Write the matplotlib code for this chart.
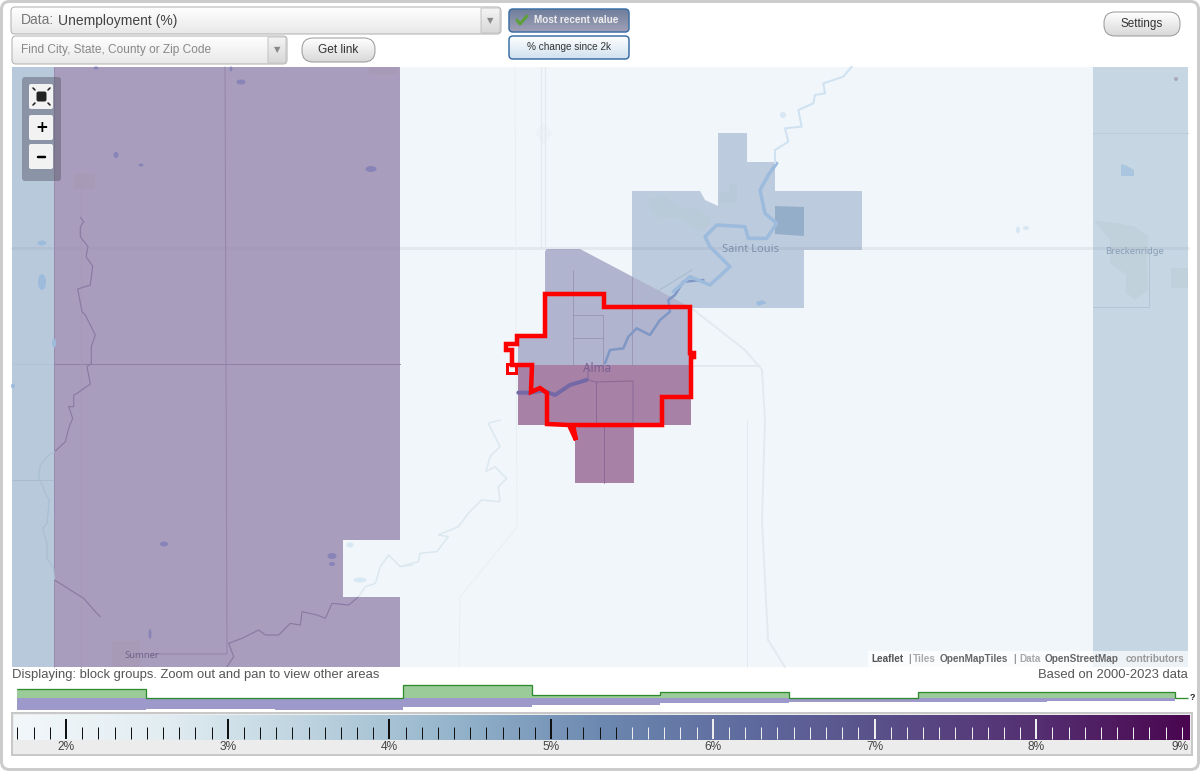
# coding: utf-8
import numpy as np
import matplotlib
matplotlib.use('Agg')
import matplotlib.pyplot as plt
from matplotlib.colors import LinearSegmentedColormap
from matplotlib.patches import Ellipse, FancyBboxPatch, Polygon, Rectangle

plt.rcParams['font.family'] = ['Liberation Sans', 'DejaVu Sans']

# Гистограмма над шкалой: границы столбцов и высоты (пиксели от базовой линии)
hist_edges = [17, 146, 275, 403, 532, 660, 789, 918, 1047, 1175, 1188]
green_heights = [8.7, 0.5, 0.5, 12.7, 2.7, 5.7, 0.5, 5.7, 5.7, 0.5]
purple_heights = [12.3, 11, 12.3, 9.3, 7, 5.3, 4.3, 4.3, 2.7, 1]

# Шкала значений
scale_values = [2, 3, 4, 5, 6, 7, 8, 9]
scale_labels = ['2%', '3%', '4%', '5%', '6%', '7%', '8%', '9%']
minor_ticks = np.arange(17, 90) / 10
gradient_colors = ['#f2f7fa', '#e2edf2', '#bdd3df', '#94b4cb', '#6c88b0',
                   '#5f6a9e', '#594d87', '#542e70', '#4a0650']

# Области карты, координаты в пикселях рисунка
west_blue = [(12, 67), (54, 67), (54, 667), (12, 667)]
west_purple = [(54, 67), (400, 67), (400, 540), (343, 540), (343, 597),
               (400, 597), (400, 667), (54, 667)]
east_blue = [(1093, 67), (1188, 67), (1188, 667), (1093, 667)]
saint_louis = [(632, 191), (700, 191), (705, 200), (718, 206), (718, 133),
               (747, 133), (747, 162), (775, 162), (775, 191), (862, 191),
               (862, 250), (804, 250), (804, 308), (697, 308), (686, 308),
               (632, 278)]
saint_louis_dark = [(775, 206), (804, 207), (804, 236), (775, 234)]
alma_upper = [(545, 249), (580, 249), (690, 307), (691, 365), (518, 365),
              (518, 335), (545, 335)]
alma_lower = [(518, 365), (691, 365), (691, 425), (634, 425), (634, 483),
              (575, 483), (575, 425), (518, 425)]
red_outline = [(545, 294), (604, 294), (604, 307), (690, 307), (690, 353),
               (694, 353), (694, 357), (691, 357), (691, 397), (662, 397),
               (662, 425), (573, 425), (576, 440), (569, 425), (547, 424),
               (547, 393), (540, 388), (531, 392), (532, 365), (512, 365),
               (512, 350), (506, 350), (506, 344), (517, 344), (517, 336),
               (545, 336)]
red_square = [(507, 364), (516, 364), (516, 373), (507, 373)]


def from_crop(pts, x0, y0):
    '''Пересчет точек с увеличенного фрагмента (3x) в пиксели рисунка.'''
    return np.array(pts) / 3 + np.array([x0, y0])


river_west = from_crop([(205, 112), (215, 125), (205, 140), (205, 170), (228, 200),
                        (222, 230), (242, 258), (235, 315), (197, 327), (210, 395),
                        (220, 405), (250, 465), (238, 500), (238, 550), (225, 560),
                        (235, 612), (195, 640), (185, 645), (185, 680), (170, 680),
                        (182, 715), (170, 745), (160, 785), (128, 815)], 12, 180)
river_west_blue = from_crop([(128, 815), (110, 825), (85, 855), (80, 890), (105, 950),
                             (112, 960), (105, 1030), (92, 1045), (105, 1090),
                             (105, 1135), (125, 1165), (128, 1200)], 12, 180)
river_sw = from_crop([(128, 1200), (175, 1230), (215, 1255), (250, 1295),
                      (265, 1310)], 12, 180)
river_south = from_crop([(645, 1460), (665, 1430), (650, 1390), (690, 1375), (740, 1350),
                         (760, 1365), (800, 1365), (835, 1330), (865, 1335), (870, 1295),
                         (915, 1305), (940, 1315), (960, 1270), (1010, 1275),
                         (1040, 1250)], 12, 180)
river_mid = from_crop([(0, 440), (55, 425), (60, 400), (110, 395), (145, 350), (115, 345),
                       (175, 320), (205, 280), (245, 240), (300, 245), (295, 200),
                       (320, 175), (285, 140), (258, 155), (270, 110), (300, 80),
                       (275, 30), (265, 10), (300, 0)], 400, 420)
river_mid_west = from_crop([(1040, 1250), (1060, 1220), (1090, 1210), (1105, 1160),
                            (1130, 1125), (1165, 1160), (1200, 1155)], 12, 180)
river_alma_thick = from_crop([(85, 368), (120, 368), (160, 362), (195, 375), (240, 345),
                              (290, 330)], 490, 270)
river_alma = from_crop([(345, 280), (360, 240), (400, 235), (415, 200), (440, 175),
                        (480, 195), (510, 150), (540, 125), (535, 90), (555, 75),
                        (580, 35), (640, 30)], 490, 270)
river_louis = from_crop([(160, 515), (210, 470), (270, 495), (330, 440), (270, 380),
                         (255, 350), (290, 315), (375, 320), (385, 355), (440, 355),
                         (470, 310), (435, 280), (420, 210), (445, 165),
                         (470, 130)], 620, 120)
river_north = from_crop([(285, 310), (285, 270), (325, 245), (315, 205), (365, 200),
                         (355, 150), (400, 130), (405, 105), (435, 100), (430, 70),
                         (490, 50), (515, 20)], 680, 60)
breck_town = from_crop([(280, 660), (310, 665), (355, 670), (405, 680), (445, 710),
                        (440, 790), (445, 870), (405, 900), (375, 875), (380, 825),
                        (330, 790), (330, 720)], 1000, 0)

# Озера: центр x, центр y, ширина, высота
ponds_purple = [(116, 155, 5, 6), (141, 165, 5, 3), (371, 169, 11, 6), (241, 82, 9, 5),
                (231, 69, 3, 5), (96, 68, 5, 3), (164, 544, 8, 5), (332, 556, 9, 6),
                (332, 564, 6, 4), (150, 634, 3, 10)]
ponds_blue = [(42, 243, 9, 5), (42, 282, 8, 16), (54, 343, 4, 9), (13, 386, 4, 5)]
ponds_light = [(350, 545, 7, 5), (360, 580, 13, 5), (1018, 230, 4, 7), (1026, 228, 6, 4),
               (783, 115, 6, 6)]
town_patches = [(74, 174, 21, 15), (369, 67, 29, 7), (112, 641, 28, 26)]

fig = plt.figure(figsize=(12, 7.71), dpi=100)
ax = fig.add_axes([0, 0, 1, 1])
ax.set_xlim(0, 1200)
ax.set_ylim(771, 0)
ax.axis('off')


def px(width):
    return width * 0.72


def poly(pts, color, z=2, alpha=None):
    ax.add_patch(Polygon(pts, closed=True, fc=color, ec='none', alpha=alpha, zorder=z))


def line(pts, color, width=1.0, z=3, alpha=None):
    pts = np.array(pts)
    ax.plot(pts[:, 0], pts[:, 1], color=color, lw=px(width), alpha=alpha, zorder=z,
            solid_joinstyle='round', solid_capstyle='round')


def grad_box(x, y, w, h, top, bottom, edge, rad=4, lw=1.0, z=6):
    '''Прямоугольник со скругленными углами и вертикальным градиентом.'''
    cm = LinearSegmentedColormap.from_list('b', [top, bottom])
    box = FancyBboxPatch((x + rad, y + rad), w - 2 * rad, h - 2 * rad,
                         boxstyle='round,pad=%g,rounding_size=%g' % (rad, rad),
                         fc='none', ec=edge, lw=px(lw), zorder=z + 1)
    ax.add_patch(box)
    im = ax.imshow(np.linspace(0, 1, 64).reshape(-1, 1), cmap=cm, aspect='auto',
                   extent=(x, x + w, y + h, y), zorder=z)
    im.set_clip_path(box)


# Рамка виджета
ax.add_patch(FancyBboxPatch((6, 6), 1188, 759, boxstyle='round,pad=4.5,rounding_size=8',
                            fc='white', ec='#cccccc', lw=px(3), zorder=0))

# Карта: фон, дороги и области
ax.add_patch(Rectangle((12, 67), 1176, 600, fc='#f1f6fa', ec='none', zorder=1))
poly(west_blue, '#b9c9dc')
poly(west_purple, '#a99dbd')
poly(east_blue, '#c6d6e3')
poly(saint_louis, '#bccbdd')
poly(saint_louis_dark, '#94aeca')
poly(alma_upper, '#b0b4cf')
poly(alma_lower, '#a782a6')

# Застройка
for x, y, w, h in town_patches:
    ax.add_patch(Rectangle((x, y), w, h, fc='#a79ab7', ec='none', zorder=2))
poly(breck_town, '#c1d1dc')
ax.add_patch(Rectangle((1171, 268), 17, 20, fc='#c1d1dc', ec='none', zorder=2))
ax.add_patch(Ellipse((1176, 79), 4, 4, fc='#a9a7bd', ec='none', zorder=3))
poly(from_crop([(80, 240), (130, 228), (170, 260), (240, 270), (275, 300), (245, 335),
                (180, 295), (110, 290)], 620, 120), '#b9cad9')
poly(from_crop([(298, 215), (328, 215), (328, 192), (350, 192), (350, 248),
                (298, 248)], 620, 120), '#b8c9d9')
poly([(535, 133), (543, 122), (553, 133), (543, 145)], '#ecf2f6', z=1.5)

road = '#e3eaef'
line([(12, 248), (1188, 248)], '#8a8aa8', 3.0, alpha=0.13)
line([(12, 364), (54, 364)], '#b0c2d6', 1)
line([(12, 480), (54, 480)], '#a8bdd0', 1)
line([(691, 366), (760, 366)], road, 2)
line([(54, 364), (400, 364)], '#8f80a5', 1)
line([(225, 67), (226, 364), (227, 654), (150, 654)], '#9485a9', 1)
line([(81, 180), (81, 667)], '#a699b8', 1)
line([(54, 67), (54, 667)], '#8f80a5', 1, alpha=0.6)
line([(541, 67), (541, 250)], road, 1.3)
line([(545, 67), (545, 250)], road, 1.3)
line([(515, 67), (517, 527), (460, 597), (459, 667)], '#e8eff3', 1)
line([(747, 420), (747, 667)], road, 1)
line([(690, 307), (745, 350), (762, 370), (765, 420), (762, 520), (768, 640), (785, 667)],
     road, 2)
line([(1093, 133), (1188, 133)], '#bccdda', 1)
line([(1093, 307), (1149, 307), (1149, 250)], '#b4c6d6', 1)

# Внутренние границы групп кварталов
boundary = '#8f86ad'
for seg in ([(573, 270), (573, 365)], [(632, 277), (632, 365)],
            [(573, 315), (603, 315), (603, 365)], [(573, 338), (603, 338)]):
    line(seg, boundary, 1, alpha=0.6)
for seg in ([(588, 365), (588, 380), (596, 382), (633, 381), (633, 425)],
            [(596, 382), (596, 425)], [(604, 426), (604, 483)]):
    line(seg, '#7e5f90', 1, alpha=0.7)
line([(692, 270), (632, 307)], '#a9bad0', 1)

# Реки и озера
line(river_west, '#8a7ba3', 1.2)
line(river_west_blue, '#a9bfd2', 1.2)
line(river_sw, '#8a7ba3', 1.2)
line(river_south, '#8a7ba3', 1.2)
line(river_mid_west, '#dbe8ef', 1.5)
line(river_mid, '#dbe8ef', 1.5)
line(river_alma_thick, '#7468a6', 4)
line(river_alma, '#7f97c4', 2.5)
line(river_louis, '#9dbbdc', 3.5)
line(river_north, '#cfe2f2', 2)
for x, y, w, h in ponds_purple:
    ax.add_patch(Ellipse((x, y), w, h, fc='#8884b8', ec='none', zorder=3))
for x, y, w, h in ponds_blue:
    ax.add_patch(Ellipse((x, y), w, h, fc='#9dbcdc', ec='none', zorder=3))
for x, y, w, h in ponds_light:
    ax.add_patch(Ellipse((x, y), w, h, fc='#d7e7f3', ec='none', zorder=3))
poly([(1121, 164), (1127, 166), (1134, 170), (1134, 176), (1121, 176)], '#a9c5df', z=3)
poly([(756, 302), (762, 300), (767, 303), (758, 306)], '#9dbbdc', z=3)

# Контур выбранной области
ax.add_patch(Polygon(red_outline, closed=True, fc='none', ec='#ff0000', lw=px(4.5),
                     joinstyle='miter', zorder=5))
ax.add_patch(Polygon(red_square, closed=True, fc='none', ec='#ff0000', lw=px(3),
                     joinstyle='miter', zorder=5))

# Подписи на карте
ax.text(597, 369, 'Alma', fontsize=8.5, color='#7a5f90', ha='center', va='center',
        family=['Noto Sans'], zorder=4)
ax.text(751, 250, 'Saint Louis', fontsize=8, color='#7f90ad', ha='center', va='center',
        family=['Noto Sans'], zorder=4)
ax.text(1135, 251, 'Breckenridge', fontsize=6.8, color='#8a9fb8', ha='center', va='center',
        family=['Noto Sans'], zorder=4)
ax.text(142, 656, 'Sumner', fontsize=6.8, color='#6f6288', ha='center', va='center',
        family=['Noto Sans'], zorder=4)

# Кнопки масштаба
ax.add_patch(FancyBboxPatch((24, 79), 35, 100, boxstyle='round,pad=2,rounding_size=3',
                            fc='#555566', ec='none', alpha=0.45, zorder=6))
for y, h in ((84, 25), (115, 25), (144, 25)):
    ax.add_patch(FancyBboxPatch((31, y + 2), 20, h - 4,
                                boxstyle='round,pad=2,rounding_size=2',
                                fc='#f2f2f2', ec='none', zorder=7))
ax.add_patch(FancyBboxPatch((37.5, 92.5), 8, 8, boxstyle='round,pad=1,rounding_size=2',
                            fc='#222222', ec='none', zorder=8))
for dx, dy in ((-1, -1), (1, -1), (-1, 1), (1, 1)):
    line([(41.5 + dx * 6.5, 96.5 + dy * 6.5), (41.5 + dx * 8.5, 96.5 + dy * 8.5)],
         '#222222', 1.6, z=8)
ax.text(41.5, 127, '+', fontsize=11, fontweight='bold', ha='center', va='center',
        color='black', zorder=8, family=['DejaVu Sans'])
line([(38, 156.5), (45, 156.5)], 'black', 2.5, z=8)

# Атрибуция
ax.add_patch(Rectangle((868, 651), 320, 16, fc='white', ec='none', alpha=0.7, zorder=6))
attribution = [(871, 'Leaflet', '#555555'), (908, '|', '#999999'), (913, 'Tiles', '#aaaaaa'),
               (939.5, 'OpenMapTiles', '#666666'), (1013, '|', '#999999'),
               (1019, 'Data', '#aaaaaa'), (1045, 'OpenStreetMap', '#666666'),
               (1126, 'contributors', '#999999')]
for x, s, c in attribution:
    ax.text(x, 659.5, s, fontsize=7.2, color=c, fontweight='bold', va='center', zorder=7)

# Верхняя панель
grad_box(11, 7, 490, 27, '#ffffff', '#e8e8e8', '#b0b0b0')
grad_box(481, 8, 19, 25, '#f4f4f4', '#d8d8d8', '#c4c4c4', rad=1)
ax.text(21, 20.5, 'Data:', fontsize=10, color='#777777', va='center', zorder=8)
ax.text(58, 20.5, 'Unemployment (%)', fontsize=10, color='#444444', va='center', zorder=8)
ax.text(490.5, 21, '▼', fontsize=6, color='#888888', ha='center', va='center',
        zorder=9, family=['DejaVu Sans'])

grad_box(12, 36, 275, 28, '#ffffff', '#e8e8e8', '#b0b0b0')
grad_box(268, 37, 18, 26, '#f4f4f4', '#d8d8d8', '#c4c4c4', rad=1)
ax.text(21, 49.5, 'Find City, State, County or Zip Code', fontsize=8.6, color='#888888',
        va='center', zorder=8)
ax.text(277, 50, '▼', fontsize=6, color='#888888', ha='center', va='center',
        zorder=9, family=['DejaVu Sans'])

grad_box(302, 38, 73, 24, '#ffffff', '#d8d8d8', '#999999', rad=11)
ax.text(338.5, 50, 'Get link', fontsize=8.6, color='#333333', ha='center', va='center', zorder=8)
grad_box(1104, 12, 76, 24, '#ffffff', '#d8d8d8', '#999999', rad=11)
ax.text(1142, 24, 'Settings', fontsize=8.4, color='#333333', ha='center', va='center', zorder=8)

grad_box(509, 9, 120, 23, '#6f7e9a', '#a0a0b8', '#3a6ea5', lw=1.5)
ax.text(534, 20, 'Most recent value', fontsize=7.2, color='#eeeeee', fontweight='bold',
        va='center', zorder=8)
line([(517, 20), (520, 24), (527, 16)], '#5da03a', 3, z=9)
grad_box(509, 36, 120, 23, '#ffffff', '#cfe0ee', '#3a6ea5', lw=1.5)
ax.text(569, 47, '% change since 2k', fontsize=7.2, color='#333333', ha='center',
        va='center', zorder=8)

# Нижние подписи
ax.text(12, 675, 'Displaying: block groups. Zoom out and pan to view other areas', fontsize=9.4,
        color='#555555', va='center', zorder=8)
ax.text(1188, 675, 'Based on 2000-2023 data', fontsize=9.4, color='#555555', ha='right',
        va='center', zorder=8)

# Гистограмма: зеленая вверх от базовой линии, сиреневая вниз
base_y = 698
edges = np.array(hist_edges)
for i in range(len(green_heights) - 1):
    ax.bar(edges[i], -green_heights[i], width=edges[i + 1] - edges[i], bottom=base_y,
           align='edge', color='#9bcb98', lw=0, zorder=3)
for i in range(len(purple_heights)):
    ax.bar(edges[i], purple_heights[i], width=edges[i + 1] - edges[i], bottom=base_y,
           align='edge', color='#9d99cb', lw=0, zorder=3)
ax.stairs(base_y - np.array(green_heights), edges, baseline=None, color='#2e8b2e',
          lw=px(1.3), zorder=4)
ax.text(1192, 697, '?', fontsize=6.5, fontweight='bold', color='#222222', ha='center',
        va='center', zorder=4)

# Шкала
x_scale = lambda v: 66 + (v - 2) * 161.7
ax.add_patch(Rectangle((12, 713), 1180, 42, fc='#ececec', ec='#c8c8c8', lw=px(2), zorder=2))
cmap = LinearSegmentedColormap.from_list('scale', gradient_colors)
ax.imshow(np.linspace(0, 1, 512).reshape(1, -1), cmap=cmap, aspect='auto',
          extent=(14, 1190, 740, 715), zorder=3)
for v in minor_ticks:
    x = x_scale(v)
    is_major = abs(v - round(v)) < 1e-6
    color = '#111111' if v < 5.45 else '#eeeeee'
    y_top = 719 if is_major else 727
    ax.plot([x, x], [y_top, 739], color=color, lw=px(2 if is_major else 1), zorder=4,
            solid_capstyle='butt')
for v, s in zip(scale_values, scale_labels):
    x = min(x_scale(v), 1180)
    ax.text(x, 747.5, s, fontsize=8.6, color='#444444', ha='center', va='center', zorder=4)

ax.set_xlim(0, 1200)
ax.set_ylim(771, 0)
fig.savefig('out.png', dpi=100)
